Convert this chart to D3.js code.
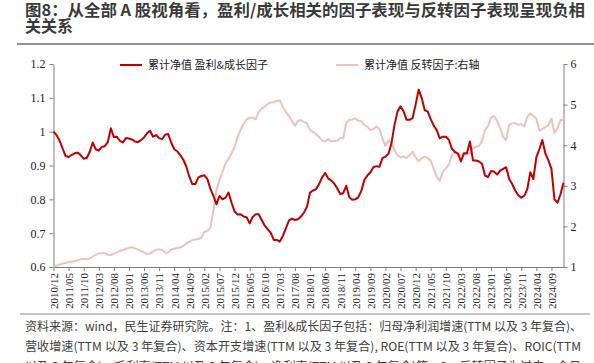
<!DOCTYPE html>
<html>
<head>
<meta charset="utf-8">
<script src="https://cdn.jsdelivr.net/npm/d3@7"></script>
<style>
  body { margin: 0; background: #fff; }
  svg { display: block; }
</style>
</head>
<body>
<div id="chart"></div>
<script>
// monthly NAV, 2010/12 .. 2025/01
var startYear = 2010, startMonth = 12;

var growthNav = [
  1.0, 0.99, 0.974, 0.951, 0.928, 0.925, 0.931, 0.936, 0.938, 0.931,
  0.92, 0.922, 0.94, 0.968, 0.948, 0.944, 0.955, 0.957, 0.969, 1.01,
  0.984, 0.985, 0.973, 0.968, 0.981, 0.98, 0.977, 0.971, 0.969, 0.975,
  0.983, 0.995, 1.003, 0.985, 0.99, 0.981, 0.978, 0.991, 0.993, 0.968,
  0.948, 0.942, 0.931, 0.917, 0.897, 0.867, 0.845, 0.845, 0.865, 0.869,
  0.871, 0.86, 0.83, 0.81, 0.785, 0.81, 0.80, 0.805, 0.82, 0.79,
  0.764, 0.755, 0.756, 0.749, 0.747, 0.729, 0.748, 0.756, 0.756, 0.739,
  0.722, 0.711, 0.701, 0.68, 0.68, 0.675, 0.692, 0.714, 0.737, 0.743,
  0.739, 0.741, 0.749, 0.761, 0.778, 0.82, 0.826, 0.83, 0.845,
  0.865, 0.878, 0.862, 0.856, 0.847, 0.833, 0.816, 0.818, 0.84, 0.806,
  0.799, 0.80, 0.806, 0.825, 0.857, 0.87, 0.88, 0.895, 0.898, 0.896,
  0.922, 0.926, 0.935, 0.966, 1.02, 1.06, 1.075, 1.06, 1.035, 1.035,
  1.04, 1.08, 1.124, 1.10, 1.064, 1.059, 1.037, 1.018, 1.004, 0.98,
  0.985, 0.985, 0.976, 0.95, 0.94, 0.936, 0.912, 0.936, 0.936, 0.971,
  0.915, 0.915, 0.912, 0.905, 0.87, 0.866, 0.884, 0.882, 0.873, 0.885,
  0.89, 0.895, 0.86, 0.845, 0.826, 0.812, 0.805, 0.81, 0.83, 0.88,
  0.86, 0.925, 0.948, 0.975, 0.935, 0.915, 0.89, 0.80, 0.79, 0.815,
  0.849
];

var reversalNav = [
  1.01, 1.03, 1.06, 1.08, 1.1, 1.12, 1.13, 1.14, 1.17, 1.19,
  1.2, 1.19, 1.21, 1.26, 1.3, 1.33, 1.34, 1.34, 1.3, 1.29,
  1.33, 1.36, 1.4, 1.42, 1.45, 1.47, 1.49, 1.46, 1.43, 1.39,
  1.36, 1.32, 1.33, 1.39, 1.42, 1.44, 1.42, 1.35, 1.36, 1.43,
  1.45, 1.47, 1.48, 1.52, 1.58, 1.62, 1.66, 1.68, 1.69, 1.72,
  1.87, 1.89, 1.97, 2.4, 2.9, 3.15, 3.35, 3.55, 3.66, 3.8,
  3.95, 4.2, 4.38, 4.52, 4.64, 4.67, 4.68, 4.64, 4.82, 4.9,
  4.95, 5.02, 5.05, 5.06, 5.09, 5.1, 4.95, 4.82, 4.72, 4.6,
  4.48, 4.6, 4.62, 4.57, 4.54, 4.37, 4.33, 4.27, 4.2,
  4.12, 4.09, 4.15, 4.09, 4.11, 4.11, 4.17, 4.17, 4.55, 4.62,
  4.63, 4.66, 4.6, 4.59, 4.5, 4.46, 4.37, 4.4, 4.46, 4.4,
  4.17, 3.98, 4.12, 4.05, 3.88, 3.75, 3.7, 3.72, 3.68, 3.76,
  3.84, 3.7, 3.6, 3.68, 3.72, 3.68, 3.62, 3.42, 3.22, 3.12,
  3.35, 3.43, 3.52, 3.75, 3.82, 3.78, 3.76, 3.78, 3.78, 3.8,
  3.92, 3.96, 3.98, 4.1, 4.38, 4.47, 4.68, 4.72, 4.6, 4.42,
  4.2, 4.13, 4.5, 4.54, 4.54, 4.5, 4.52, 4.46, 4.7, 4.78,
  4.72, 4.66, 4.36, 4.4, 4.44, 4.5, 4.65, 4.3, 4.42, 4.62,
  4.62
];

var leftTicks = [0.6, 0.7, 0.8, 0.9, 1, 1.1, 1.2];
var rightTicks = [1, 2, 3, 4, 5, 6];
var seriesNames = ["累计净值 盈利&成长因子", "累计净值 反转因子:右轴"];
var seriesColors = ["#c00000", "#f0c0c0"];

var titleLines = [
  "图8：从全部 A 股视角看，盈利/成长相关的因子表现与反转因子表现呈现负相",
  "关关系"
];
var noteLines = [
  "资料来源：wind，民生证券研究院。注：1、盈利&成长因子包括：归母净利润增速(TTM 以及 3 年复合)、",
  "营收增速(TTM 以及 3 年复合)、资本开支增速(TTM 以及 3 年复合), ROE(TTM 以及 3 年复合)、ROIC(TTM",
  "以及 3 年复合)、毛利率(TTM 以及 3 年复合)、净利率(TTM 以及 3 年复合)等；2、反转因子为过去一个月"
];
var noteWidths = [557, 556, 556];

// month labels
var months = [];
for (var k = 0; k < growthNav.length; k++) {
  var m = startMonth - 1 + k;
  var yy = startYear + Math.floor(m / 12);
  var mm = (m % 12) + 1;
  months.push(yy + "/" + (mm < 10 ? "0" + mm : mm));
}

var w = 594, h = 363;
var svg = d3.select("#chart").append("svg")
    .attr("width", w)
    .attr("height", h);

// title
svg.selectAll(".title")
    .data(titleLines)
    .enter()
    .append("text")
    .attr("class", "title")
    .attr("x", 25)
    .attr("y", function(d, i) { return 16 + i * 15.5; })
    .attr("textLength", function(d, i) { return i === 0 ? 560 : null; })
    .attr("lengthAdjust", "spacingAndGlyphs")
    .style("font-family", "'Noto Sans CJK SC', sans-serif")
    .style("font-weight", "bold")
    .style("font-size", "16px")
    .style("fill", "#3a3a3a")
    .text(function(d) { return d; });

svg.append("line")
    .attr("x1", 17).attr("x2", 594)
    .attr("y1", 44).attr("y2", 44)
    .style("stroke", "#6e6e6e")
    .style("stroke-width", 1.5);

svg.append("line")
    .attr("x1", 20).attr("x2", 590)
    .attr("y1", 314).attr("y2", 314)
    .style("stroke", "#8a8a8a")
    .style("stroke-width", 1);

// footnote
svg.selectAll(".note")
    .data(noteLines)
    .enter()
    .append("text")
    .attr("class", "note")
    .attr("x", 25)
    .attr("y", function(d, i) { return 331 + i * 20; })
    .attr("textLength", function(d, i) { return noteWidths[i]; })
    .attr("lengthAdjust", "spacingAndGlyphs")
    .style("font-family", "'Noto Sans CJK SC', sans-serif")
    .style("font-size", "12px")
    .style("fill", "#404040")
    .text(function(d) { return d; });

// scales
var x = d3.scalePoint()
    .domain(months)
    .range([53.5, 563.5]);

var yL = d3.scaleLinear()
    .domain([0.6, 1.2])
    .range([267, 64]);

var yR = d3.scaleLinear()
    .domain([1, 6])
    .range([267, 64]);

var axisFont = "'Liberation Serif', 'Times New Roman', serif";

var gL = svg.append("g")
    .attr("transform", "translate(53.5,0)")
    .call(d3.axisLeft(yL).tickValues(leftTicks).tickSize(4).tickSizeOuter(0)
      .tickFormat(function(d) { return String(+d.toFixed(1)); }));

var gR = svg.append("g")
    .attr("transform", "translate(563.5,0)")
    .call(d3.axisRight(yR).tickValues(rightTicks).tickSize(4).tickSizeOuter(0)
      .tickFormat(d3.format("d")));

var gX = svg.append("g")
    .attr("transform", "translate(0,267)")
    .call(d3.axisBottom(x)
      .tickValues(months.filter(function(d, i) { return i % 5 === 0; }))
      .tickSize(4).tickSizeOuter(0));

gX.selectAll("text")
    .attr("transform", "rotate(-90)")
    .attr("text-anchor", "end")
    .attr("x", -6)
    .attr("y", 0)
    .attr("dy", "0.35em");

[gL, gR, gX].forEach(function(g) {
  g.attr("font-family", null);
  g.selectAll("path, line").style("stroke", "#7f7f7f");
  g.selectAll("text")
    .style("font-family", axisFont)
    .style("font-size", "12px")
    .style("fill", "#222");
});
gX.selectAll("text").style("font-size", "11px");
gL.selectAll("text").attr("x", -8);
gR.selectAll("text").attr("x", 7);

// lines
var lineR = d3.line()
    .x(function(d, i) { return x(months[i]); })
    .y(function(d) { return yR(d); });

var lineL = d3.line()
    .x(function(d, i) { return x(months[i]); })
    .y(function(d) { return yL(d); });

svg.append("path")
    .datum(reversalNav)
    .attr("d", lineR)
    .style("fill", "none")
    .style("stroke", seriesColors[1])
    .style("stroke-width", 2)
    .style("stroke-linejoin", "round");

svg.append("path")
    .datum(growthNav)
    .attr("d", lineL)
    .style("fill", "none")
    .style("stroke", seriesColors[0])
    .style("stroke-width", 2)
    .style("stroke-linejoin", "round");

// legend
var legendX = [120, 336];
var legend = svg.selectAll(".legend")
    .data(seriesNames)
    .enter()
    .append("g")
    .attr("class", "legend")
    .attr("transform", function(d, i) { return "translate(" + legendX[i] + ",65)"; });

legend.append("line")
    .attr("x1", 0).attr("x2", 22)
    .attr("y1", 0).attr("y2", 0)
    .style("stroke", function(d, i) { return seriesColors[i]; })
    .style("stroke-width", 2);

legend.append("text")
    .attr("x", 28)
    .attr("y", 4)
    .style("font-family", "'Noto Sans CJK SC', sans-serif")
    .style("font-size", "11px")
    .style("fill", "#222")
    .text(function(d) { return d; });
</script>
</body>
</html>
